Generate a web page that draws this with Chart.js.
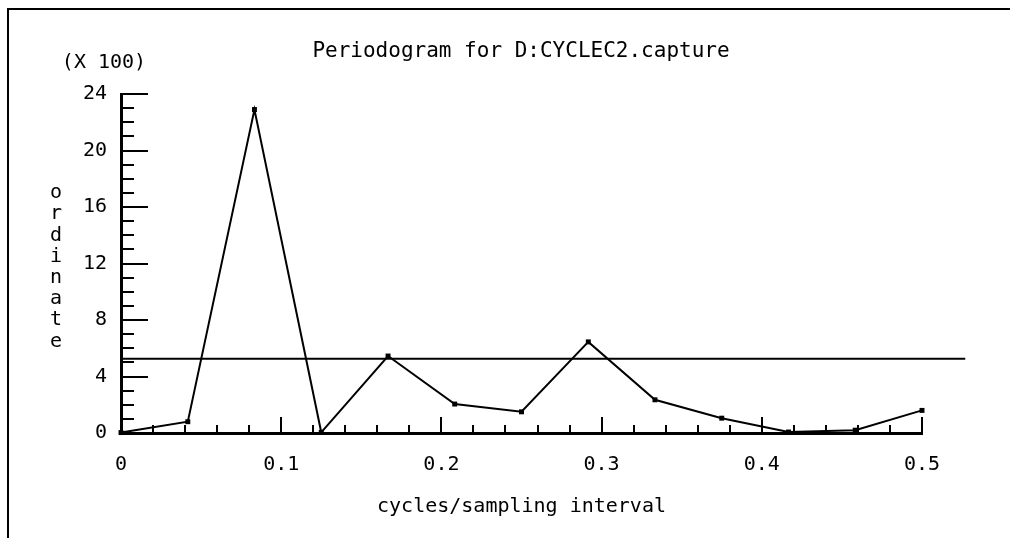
<!DOCTYPE html>
<html>
<head>
<meta charset="utf-8">
<script src="https://cdn.jsdelivr.net/npm/chart.js@4/dist/chart.umd.min.js"></script>
<style>
  html, body { margin: 0; padding: 0; background: #fff; }
  #wrap { position: relative; width: 1010px; height: 538px; overflow: hidden; }
  #frame {
    position: absolute; left: 7px; top: 8px; width: 1100px; height: 600px;
    border-left: 2px solid #000; border-top: 2px solid #000;
  }
  canvas { position: absolute; left: 0; top: 0; }
</style>
</head>
<body>
<div id="wrap">
  <div id="frame"></div>
  <canvas id="chart" width="1010" height="538"></canvas>
</div>
<script>
(function () {
  "use strict";

  // periodogram ordinates (x 100) at the Fourier frequencies
  var frequencies = [0, 0.0417, 0.0833, 0.125, 0.1667, 0.2083, 0.25, 0.2917,
    0.3333, 0.375, 0.4167, 0.4583, 0.5];
  var ordinates = [0.03, 0.8, 22.9, 0.05, 5.45, 2.05, 1.5, 6.45,
    2.35, 1.05, 0.07, 0.2, 1.6];

  // horizontal reference level
  var levelX = [0, 0.527];
  var levelY = [5.25, 5.25];

  var titleText = "Periodogram for D:CYCLEC2.capture";
  var scaleNote = "(X 100)";
  var yTitle = "ordinate";
  var xTitle = "cycles/sampling interval";

  var FONT = "'DejaVu Sans Mono', 'Liberation Mono', monospace";

  function toPoints(xs, ys) {
    return xs.map(function (x, i) {
      return { x: x, y: ys[i] };
    });
  }

  // tick marks drawn inward from the axes, like the original plot
  var inwardTicks = {
    id: "inwardTicks",
    afterDraw: function (chart) {
      var ctx = chart.ctx;
      var xs = chart.scales.x;
      var ys = chart.scales.y;
      var xAxis = ys.getPixelForValue(0);
      var yAxis = xs.getPixelForValue(0);
      ctx.save();
      ctx.strokeStyle = "#000";
      ctx.lineWidth = 2;
      ctx.beginPath();
      var i, p, len;
      for (i = 1; i <= 25; i++) {
        p = Math.round(xs.getPixelForValue(i * 0.02));
        len = i % 5 === 0 ? 16 : 8;
        ctx.moveTo(p, xAxis);
        ctx.lineTo(p, xAxis - len);
      }
      for (i = 1; i <= 24; i++) {
        p = Math.round(ys.getPixelForValue(i));
        len = i % 4 === 0 ? 27 : 13;
        ctx.moveTo(yAxis, p);
        ctx.lineTo(yAxis + len, p);
      }
      ctx.stroke();

      ctx.fillStyle = "#000";
      ctx.textAlign = "center";
      ctx.textBaseline = "middle";
      ctx.font = "21px " + FONT;
      ctx.fillText(titleText, 521, 52);
      ctx.font = "20px " + FONT;
      ctx.fillText(scaleNote, 104, 63);
      for (i = 0; i < yTitle.length; i++) {
        ctx.fillText(yTitle.charAt(i), 56, 193 + i * 21.2);
      }
      ctx.restore();
    },
  };

  new Chart(document.getElementById("chart"), {
    type: "scatter",
    data: {
      datasets: [
        {
          data: toPoints(frequencies, ordinates),
          showLine: true,
          borderColor: "#000",
          borderWidth: 2,
          pointStyle: "rect",
          pointRadius: 3.5,
          pointBackgroundColor: "#000",
          pointBorderColor: "#000",
          pointBorderWidth: 0,
          clip: false,
        },
        {
          data: toPoints(levelX, levelY),
          showLine: true,
          borderColor: "#000",
          borderWidth: 2,
          pointRadius: 0,
          clip: false,
        },
      ],
    },
    options: {
      responsive: false,
      animation: false,
      events: [],
      layout: { padding: { top: 94, right: 88, left: 0, bottom: 0 } },
      plugins: {
        legend: { display: false },
        tooltip: { enabled: false },
      },
      scales: {
        x: {
          type: "linear",
          min: 0,
          max: 0.5,
          afterFit: function (scale) {
            scale.height = 105;
          },
          border: { display: true, color: "#000", width: 3 },
          grid: { display: false, drawTicks: false },
          ticks: {
            stepSize: 0.1,
            color: "#000",
            padding: 20,
            font: { family: FONT, size: 20 },
            maxRotation: 0,
          },
          title: {
            display: true,
            text: xTitle,
            color: "#000",
            font: { family: FONT, size: 20 },
            padding: { top: 0, bottom: 19 },
          },
        },
        y: {
          type: "linear",
          min: 0,
          max: 24,
          afterFit: function (scale) {
            scale.width = 121;
          },
          border: { display: true, color: "#000", width: 3 },
          grid: { display: false, drawTicks: false },
          ticks: {
            stepSize: 4,
            color: "#000",
            padding: 14,
            font: { family: FONT, size: 20 },
          },
        },
      },
    },
    plugins: [inwardTicks],
  });
})();
</script>
</body>
</html>
